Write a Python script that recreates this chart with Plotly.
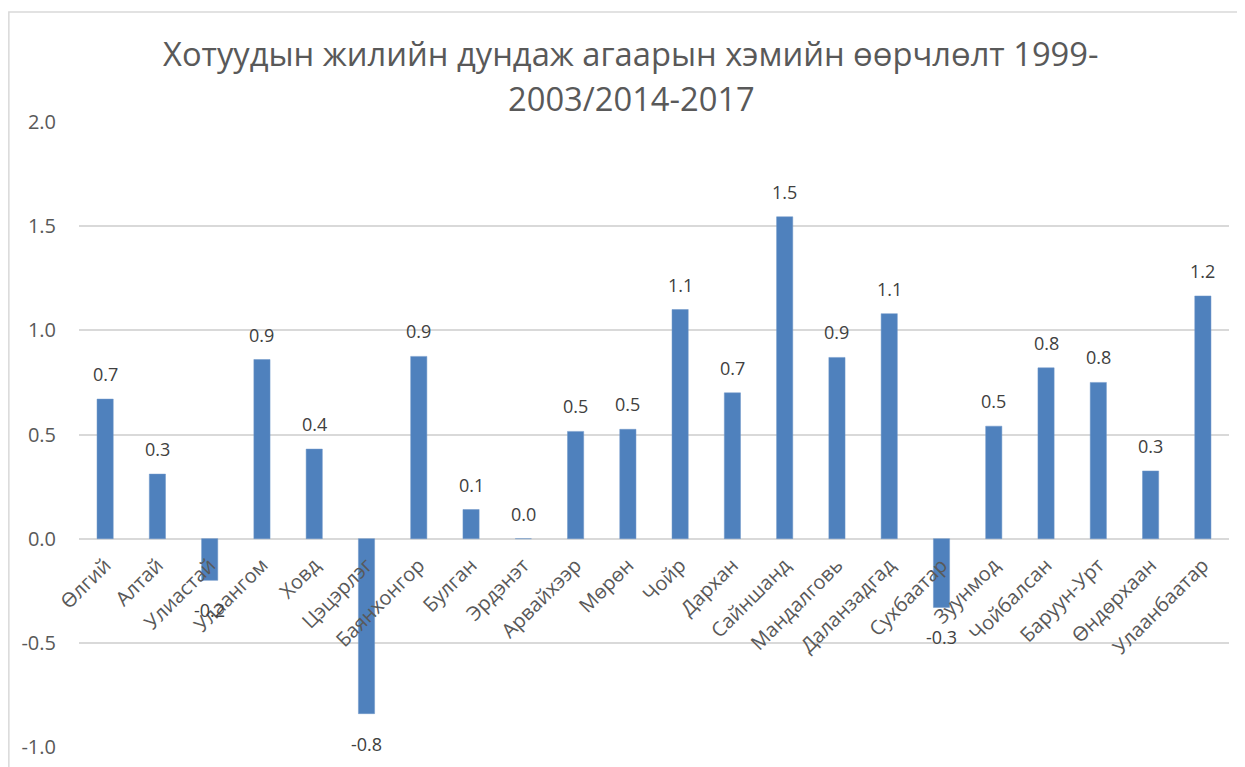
import plotly.graph_objects as go

CITIES = ['Өлгий', 'Алтай', 'Улиастай', 'Улаангом', 'Ховд', 'Цэцэрлэг', 'Баянхонгор',
          'Булган', 'Эрдэнэт', 'Арвайхээр', 'Мөрөн', 'Чойр', 'Дархан', 'Сайншанд',
          'Мандалговь', 'Даланзадгад', 'Сухбаатар', 'Зуунмод', 'Чойбалсан',
          'Баруун-Урт', 'Өндөрхаан', 'Улаанбаатар']
CHANGE = [0.67, 0.31, -0.20, 0.86, 0.43, -0.84, 0.875, 0.14, 0.0, 0.515, 0.525, 1.10,
          0.70, 1.545, 0.87, 1.08, -0.33, 0.54, 0.82, 0.75, 0.325, 1.165]
Y_TICKS = [-1.0, -0.5, 0.0, 0.5, 1.0, 1.5, 2.0]

TITLE_LINES = ['Хотуудын жилийн дундаж агаарын хэмийн өөрчлөлт 1999-', '2003/2014-2017']
FONT = 'Open Sans'
GREY = '#595959'
GRID = '#d9d9d9'

fig = go.Figure(go.Bar(
    x=CITIES,
    y=CHANGE,
    marker=dict(color='#4f81bd', line=dict(color='#6f97c9', width=0.5)),
    cliponaxis=False,
    width=0.31,
))

fig.update_layout(
    width=1245,
    height=767,
    margin=dict(l=71, r=24, t=114, b=28),
    plot_bgcolor='rgba(0,0,0,0)',
    paper_bgcolor='white',
    font=dict(family=FONT, color=GREY),
    showlegend=False,
)

# two-line chart title
for line, ypos in zip(TITLE_LINES, [1.11, 1.038]):
    fig.add_annotation(text=line, xref='paper', yref='paper', x=0.48, y=ypos,
                       xanchor='center', yanchor='middle', showarrow=False,
                       font=dict(size=32.7, color=GREY, family=FONT))

# data labels, Excel style: above positive bars, below negative ones
for city, v in zip(CITIES, CHANGE):
    fig.add_annotation(x=city, y=v, text=f'{v:.1f}', showarrow=False,
                       yanchor='middle', yshift=25 if v >= 0 else -30,
                       font=dict(size=18, color='#404040', family=FONT))

fig.update_xaxes(
    type='category',
    anchor='free',
    position=1 / 3,
    tickangle=-45,
    tickfont=dict(size=20, color=GREY),
    ticklabelstandoff=10,
    showline=False,
    showgrid=False,
    ticks='',
    automargin=False,
)

fig.update_yaxes(
    range=[-1.0, 2.0],
    tickvals=Y_TICKS,
    ticktext=[f'{v:.1f}' for v in Y_TICKS],
    tickfont=dict(size=20, color=GREY),
    showgrid=True,
    gridcolor=GRID,
    gridwidth=1.5,
    zeroline=True,
    zerolinecolor=GRID,
    zerolinewidth=1.5,
    ticklabelstandoff=22,
    automargin=False,
)

# outer chart frame
fig.add_shape(type='rect', xref='paper', yref='paper',
              x0=-0.061, x1=1.2, y0=-0.2, y1=1.176,
              line=dict(color=GRID, width=1.5), layer='above')

fig.write_html('out.html')
